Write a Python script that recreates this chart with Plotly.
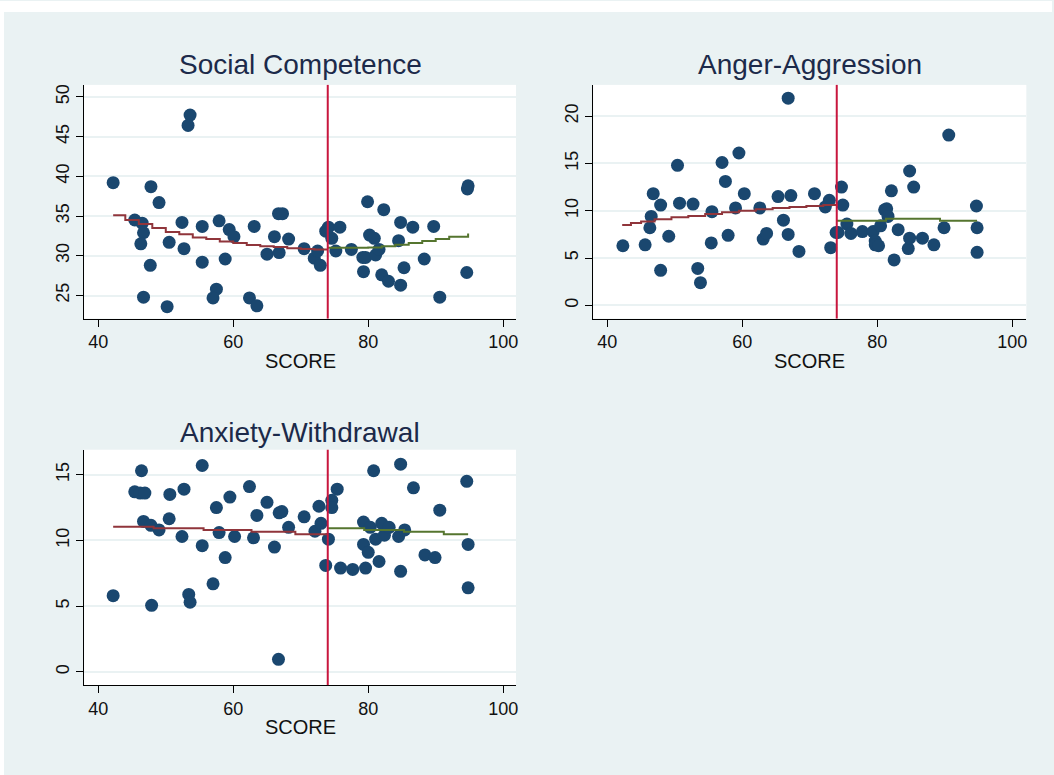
import plotly.graph_objects as go

CUTOFF = 74

# Social Competence
sc_score = [42.2, 53.6, 53.3, 47.8, 49.0, 45.4, 46.5, 46.7, 46.3, 47.7, 46.7, 50.2,
            50.5, 52.4, 52.7, 55.4, 55.4, 57.9, 58.8, 57.5, 57.0, 59.4, 60.1, 63.1,
            62.4, 63.5, 65.0, 66.1, 66.7, 67.3, 66.8, 68.2, 70.5, 72.0, 72.5, 72.9,
            73.7, 74.1, 74.6, 75.2, 75.8, 77.5, 79.2, 79.6, 79.3, 79.9, 80.2, 80.9,
            81.1, 81.6, 82.0, 82.3, 83.0, 84.5, 84.8, 84.8, 85.3, 86.6, 88.3, 89.7,
            90.6, 94.8, 94.7, 94.6]
sc_value = [39.2, 47.7, 46.4, 38.7, 36.7, 34.5, 34.1, 32.9, 31.5, 28.8, 24.8, 23.6,
            31.7, 34.2, 30.9, 33.7, 29.2, 34.4, 29.6, 25.8, 24.7, 33.3, 32.4, 33.7,
            24.7, 23.7, 30.2, 32.4, 35.3, 35.3, 30.4, 32.1, 30.9, 29.7, 30.6, 28.8,
            33.1, 33.6, 32.2, 30.6, 33.6, 30.8, 29.8, 29.8, 28.0, 36.8, 32.6, 32.2,
            30.1, 30.8, 27.6, 35.8, 26.8, 31.9, 34.2, 26.3, 28.5, 33.6, 29.6, 33.7,
            24.8, 38.8, 38.4, 27.9]
sc_fit_lo_x = [42.2, 44, 46, 48, 50, 52, 54, 56, 58, 60, 62, 64, 66, 68, 70, 72, 74]
sc_fit_lo_y = [35.1, 34.5, 34.0, 33.5, 33.0, 32.7, 32.3, 32.1, 31.8, 31.6, 31.35,
               31.2, 31.1, 30.95, 30.85, 30.8, 30.8]
sc_fit_hi_x = [74, 76, 78, 80, 82, 84, 86, 88, 90, 92, 94.8]
sc_fit_hi_y = [31.0, 31.0, 31.0, 31.05, 31.2, 31.4, 31.6, 31.85, 32.1, 32.4, 32.8]

# Anger-Aggression
aa_score = [42.3, 45.6, 46.8, 46.5, 46.3, 47.9, 47.9, 49.1, 50.4, 50.7, 52.7, 53.4,
            53.8, 55.5, 55.4, 57.0, 57.5, 57.9, 59.5, 59.0, 60.3, 62.6, 63.1, 63.6,
            65.3, 66.1, 66.8, 67.2, 66.8, 68.4, 70.7, 72.3, 72.9, 73.1, 73.9, 74.7,
            74.9, 74.2, 75.5, 76.1, 77.8, 79.4, 79.7, 79.7, 80.2, 80.5, 81.1, 81.4,
            81.6, 82.1, 82.5, 83.1, 84.6, 84.8, 84.8, 85.4, 86.7, 88.4, 89.9, 90.6,
            94.7, 94.8, 94.8]
aa_value = [6.3, 6.4, 11.8, 9.4, 8.2, 10.6, 3.7, 7.3, 14.8, 10.8, 10.7, 3.9,
            2.4, 9.9, 6.6, 15.1, 13.1, 7.4, 16.1, 10.3, 11.8, 10.3, 7.0, 7.6,
            11.5, 9.0, 21.9, 11.6, 7.5, 5.7, 11.8, 10.4, 11.1, 6.1, 7.7, 12.5,
            10.6, 7.7, 8.6, 7.6, 7.8, 7.8, 6.8, 6.4, 6.3, 8.4, 10.1, 10.2,
            9.4, 12.1, 4.8, 8.0, 6.0, 7.1, 14.2, 12.5, 7.1, 6.4, 8.2, 18.0,
            10.5, 8.2, 5.6]
aa_fit_lo_x = [42.2, 43.5, 45, 47, 49.5, 52, 54.5, 57, 59.5, 62, 64.5, 67, 69.5, 72, 74]
aa_fit_lo_y = [8.5, 8.7, 8.85, 9.1, 9.3, 9.45, 9.65, 9.85, 10.0, 10.15, 10.3, 10.4,
               10.5, 10.6, 10.75]
aa_fit_hi_x = [74, 81.3, 89.3, 94.8]
aa_fit_hi_y = [8.95, 9.15, 8.95, 8.95]

# Anxiety-Withdrawal
aw_score = [42.2, 45.4, 46.4, 46.2, 46.9, 46.7, 47.8, 49.0, 47.9, 50.5, 50.6, 52.4,
            52.7, 53.4, 53.6, 55.4, 55.4, 57.0, 57.5, 57.9, 58.8, 59.5, 60.2, 62.4,
            63.0, 63.5, 65.0, 66.1, 66.8, 67.2, 66.7, 68.2, 70.5, 72.1, 72.7, 73.0,
            73.7, 74.1, 74.6, 74.6, 75.4, 75.9, 77.7, 79.6, 79.3, 80.3, 79.3, 80.0,
            80.8, 81.1, 81.6, 82.0, 82.4, 83.1, 84.5, 84.8, 84.8, 85.4, 86.7, 88.4,
            89.9, 90.6, 94.6, 94.8, 94.8]
aw_value = [5.8, 13.7, 15.3, 13.6, 13.6, 11.45, 11.15, 10.8, 5.07, 11.65, 13.5, 10.3,
            13.9, 5.9, 5.3, 15.7, 9.6, 6.7, 12.5, 10.6, 8.7, 13.3, 10.3, 14.1,
            10.2, 11.9, 12.9, 9.5, 12.1, 12.2, 0.96, 11.0, 11.8, 10.7, 12.6, 11.3,
            8.1, 10.1, 13.05, 12.5, 13.9, 7.9, 7.8, 7.9, 11.4, 11.0, 9.7, 9.1,
            15.3, 10.1, 8.4, 11.3, 10.4, 11.0, 10.3, 15.8, 7.65, 10.8, 14.0, 8.9,
            8.7, 12.3, 14.5, 9.7, 6.4]
aw_fit_lo_x = [42.2, 48.2, 55.6, 62.7, 69.2, 74]
aw_fit_lo_y = [11.05, 10.93, 10.8, 10.67, 10.47, 10.47]
aw_fit_hi_x = [74, 79.4, 85.3, 91.2, 94.8]
aw_fit_hi_y = [10.92, 10.8, 10.67, 10.47, 10.47]

W, H = 1054, 775
BG = "#eaf2f3"
NAVY = "#1a476f"
MAROON = "#90353b"
GREEN = "#55752f"
CUTCOL = "#c8163e"
FONT = "Liberation Sans, Arial, sans-serif"

fig = go.Figure()


def px_x(p):
    return p / W


def px_y(p):
    return 1 - p / H


def add_panel(n, title, score, value, lo_x, lo_y, hi_x, hi_y,
              left, right, top, bottom, xrange, yrange, yticks, title_y, score_y):
    xa = "x" if n == 1 else "x%d" % n
    ya = "y" if n == 1 else "y%d" % n
    fig.add_trace(go.Scatter(x=score, y=value, mode="markers", xaxis=xa, yaxis=ya,
                             marker=dict(color=NAVY, size=13, line=dict(width=0)),
                             showlegend=False))
    fig.add_trace(go.Scatter(x=lo_x, y=lo_y, mode="lines", xaxis=xa, yaxis=ya,
                             line=dict(color=MAROON, width=2, shape="hv"),
                             showlegend=False))
    fig.add_trace(go.Scatter(x=hi_x, y=hi_y, mode="lines", xaxis=xa, yaxis=ya,
                             line=dict(color=GREEN, width=2, shape="hv"),
                             showlegend=False))
    fig.add_shape(type="line", xref=xa, yref=ya + " domain", x0=CUTOFF, x1=CUTOFF,
                  y0=0, y1=1, line=dict(color=CUTCOL, width=2), layer="above")

    axis_common = dict(showline=True, linecolor="black", linewidth=1.3,
                       ticks="outside", ticklen=7, tickwidth=1.3, tickcolor="black",
                       tickfont=dict(family=FONT, size=18, color="#111"),
                       zeroline=False)
    fig.layout["xaxis" if n == 1 else "xaxis%d" % n] = dict(
        domain=[px_x(left), px_x(right)], anchor=ya, range=xrange,
        tickvals=[40, 60, 80, 100], showgrid=False, **axis_common)
    fig.layout["yaxis" if n == 1 else "yaxis%d" % n] = dict(
        domain=[px_y(bottom), px_y(top)], anchor=xa, range=yrange,
        tickvals=yticks, tickangle=-90, showgrid=True, gridcolor=BG, gridwidth=2,
        **axis_common)

    cx = px_x((left + right) / 2)
    fig.add_annotation(text=title, x=cx, y=px_y(title_y), xref="paper", yref="paper",
                       xanchor="center", yanchor="middle", showarrow=False,
                       font=dict(family=FONT, size=28, color="#1c2a4a"))
    fig.add_annotation(text="SCORE", x=cx, y=px_y(score_y), xref="paper", yref="paper",
                       xanchor="center", yanchor="middle", showarrow=False,
                       font=dict(family=FONT, size=20, color="#111"))


add_panel(1, "Social Competence", sc_score, sc_value, sc_fit_lo_x, sc_fit_lo_y,
          sc_fit_hi_x, sc_fit_hi_y, 84.3, 517, 84, 318, [37.9, 101.9], [22.1, 51.5],
          [25, 30, 35, 40, 45, 50], 64, 360)
add_panel(2, "Anger-Aggression", aa_score, aa_value, aa_fit_lo_x, aa_fit_lo_y,
          aa_fit_hi_x, aa_fit_hi_y, 594.3, 1028.3, 84, 318, [37.9, 102.1], [-1.4, 23.3],
          [0, 5, 10, 15, 20], 64, 360)
add_panel(3, "Anxiety-Withdrawal", aw_score, aw_value, aw_fit_lo_x, aw_fit_lo_y,
          aw_fit_hi_x, aw_fit_hi_y, 84.3, 517, 449.3, 685, [37.9, 101.9], [-1.0, 16.9],
          [0, 5, 10, 15], 432, 727)

# white strips at the top and left edge of the picture
fig.add_shape(type="rect", xref="paper", yref="paper", x0=0, x1=1, y0=px_y(11), y1=1,
              fillcolor="white", line=dict(width=0), layer="above")
fig.add_shape(type="rect", xref="paper", yref="paper", x0=0, x1=px_x(4), y0=0, y1=1,
              fillcolor="white", line=dict(width=0), layer="above")

fig.update_layout(width=W, height=H, autosize=False,
                  margin=dict(l=0, r=0, t=0, b=0),
                  paper_bgcolor=BG, plot_bgcolor="white",
                  font=dict(family=FONT), showlegend=False)

fig.write_html("out.html", config={"displayModeBar": False},
               post_script="document.body.style.margin='0';"
                           "document.body.style.overflow='hidden';")
